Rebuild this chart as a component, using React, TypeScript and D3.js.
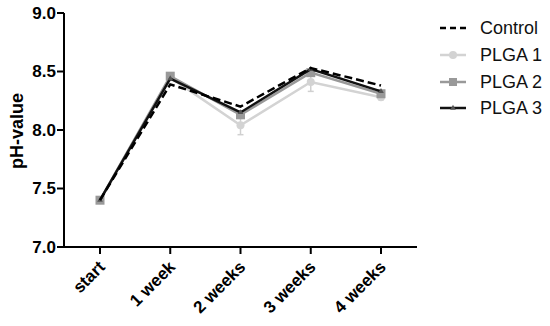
import React, { useEffect, useRef } from 'react';
import * as d3 from 'd3';

const categories = ['start', '1 week', '2 weeks', '3 weeks', '4 weeks'];
const yTicks = [7.0, 7.5, 8.0, 8.5, 9.0];

const control = [7.4, 8.39, 8.2, 8.53, 8.38];
const plga1 = [7.4, 8.45, 8.04, 8.41, 8.28];
const plga1Err = [0, 0.02, 0.08, 0.08, 0.02];
const plga2 = [7.4, 8.46, 8.13, 8.49, 8.31];
const plga2Err = [0, 0.02, 0.03, 0.03, 0.02];
const plga3 = [7.4, 8.44, 8.15, 8.52, 8.33];

const seriesNames = ['Control', 'PLGA 1', 'PLGA 2', 'PLGA 3'];

function App() {
    const ref = useRef<SVGSVGElement>(null);

    useEffect(() => {
        drawChart();
    });

    function drawChart() {
        const svg = d3.select(ref.current);
        svg.selectAll('*').remove();

        const font = 'Arial, "Liberation Sans", sans-serif';

        const x = d3
            .scalePoint<string>()
            .domain(categories)
            .range([100, 381]);

        const y = d3
            .scaleLinear()
            .domain([7, 9])
            .range([247, 13]);

        const g = svg.append('g');

        // Axes
        g.append('line')
            .attr('x1', 64).attr('x2', 64)
            .attr('y1', y(9)).attr('y2', 247)
            .attr('stroke', '#000').attr('stroke-width', 2);
        g.append('line')
            .attr('x1', 63).attr('x2', 417)
            .attr('y1', 247).attr('y2', 247)
            .attr('stroke', '#000').attr('stroke-width', 2);

        yTicks.forEach(t => {
            g.append('line')
                .attr('x1', 57).attr('x2', 64)
                .attr('y1', y(t)).attr('y2', y(t))
                .attr('stroke', '#000').attr('stroke-width', 2);
            g.append('text')
                .attr('x', 56)
                .attr('y', y(t))
                .attr('dy', '0.35em')
                .attr('text-anchor', 'end')
                .style('font-family', font)
                .style('font-weight', 'bold')
                .style('font-size', '17px')
                .text(t.toFixed(1));
        });

        categories.forEach(c => {
            const cx = x(c) as number;
            g.append('line')
                .attr('x1', cx).attr('x2', cx)
                .attr('y1', 247).attr('y2', 254)
                .attr('stroke', '#000').attr('stroke-width', 2);
            g.append('text')
                .attr('text-anchor', 'end')
                .attr('transform', `translate(${cx + 6}, ${268}) rotate(-45)`)
                .style('font-family', font)
                .style('font-weight', 'bold')
                .style('font-size', '17px')
                .text(c);
        });

        g.append('text')
            .attr('transform', `translate(23, 131) rotate(-90)`)
            .attr('text-anchor', 'middle')
            .style('font-family', font)
            .style('font-weight', 'bold')
            .style('font-size', '18px')
            .text('pH-value');

        const line = d3
            .line<number>()
            .x((_, i) => x(categories[i]) as number)
            .y(d => y(d));

        // Error bars
        const errBars = (vals: number[], errs: number[], color: string) => {
            vals.forEach((v, i) => {
                if (!errs[i]) return;
                const cx = x(categories[i]) as number;
                g.append('line')
                    .attr('x1', cx).attr('x2', cx)
                    .attr('y1', y(v - errs[i])).attr('y2', y(v + errs[i]))
                    .attr('stroke', color).attr('stroke-width', 1.5);
                [v - errs[i], v + errs[i]].forEach(e => {
                    g.append('line')
                        .attr('x1', cx - 3).attr('x2', cx + 3)
                        .attr('y1', y(e)).attr('y2', y(e))
                        .attr('stroke', color).attr('stroke-width', 1.5);
                });
            });
        };

        errBars(plga1, plga1Err, '#d0d0d0');
        errBars(plga2, plga2Err, '#999');

        // PLGA 1
        g.append('path')
            .attr('d', line(plga1))
            .attr('fill', 'none')
            .attr('stroke', '#d3d3d3')
            .attr('stroke-width', 2.5);
        plga1.forEach((v, i) => {
            g.append('circle')
                .attr('cx', x(categories[i]) as number)
                .attr('cy', y(v))
                .attr('r', 4)
                .attr('fill', '#d3d3d3');
        });

        // PLGA 2
        g.append('path')
            .attr('d', line(plga2))
            .attr('fill', 'none')
            .attr('stroke', '#999')
            .attr('stroke-width', 2.5);
        plga2.forEach((v, i) => {
            g.append('rect')
                .attr('x', (x(categories[i]) as number) - 4.5)
                .attr('y', y(v) - 4.5)
                .attr('width', 9)
                .attr('height', 9)
                .attr('fill', '#999');
        });

        // PLGA 3
        g.append('path')
            .attr('d', line(plga3))
            .attr('fill', 'none')
            .attr('stroke', '#111')
            .attr('stroke-width', 2.5);
        const tri = d3.symbol().type(d3.symbolTriangle).size(14);
        plga3.forEach((v, i) => {
            g.append('path')
                .attr('d', tri() as string)
                .attr('transform', `translate(${x(categories[i])}, ${y(v)})`)
                .attr('fill', '#555');
        });

        // Control
        g.append('path')
            .attr('d', line(control))
            .attr('fill', 'none')
            .attr('stroke', '#000')
            .attr('stroke-width', 2.5)
            .attr('stroke-dasharray', '8,4');

        // Legend
        const legend = svg.append('g').attr('transform', 'translate(440, 0)');
        const rows = [28, 55, 82, 108];
        seriesNames.forEach((name, i) => {
            const ly = rows[i];
            const colors = ['#000', '#d3d3d3', '#999', '#111'];
            const l = legend.append('line')
                .attr('x1', 0).attr('x2', 26)
                .attr('y1', ly).attr('y2', ly)
                .attr('stroke', colors[i])
                .attr('stroke-width', 2.5);
            if (i === 0) l.attr('stroke-dasharray', '6,4');
            if (i === 1) {
                legend.append('circle').attr('cx', 13).attr('cy', ly).attr('r', 4).attr('fill', '#d3d3d3');
            }
            if (i === 2) {
                legend.append('rect').attr('x', 9).attr('y', ly - 4).attr('width', 8).attr('height', 8).attr('fill', '#999');
            }
            if (i === 3) {
                legend.append('path').attr('d', tri() as string)
                    .attr('transform', `translate(13, ${ly})`).attr('fill', '#555');
            }
            legend.append('text')
                .attr('x', 40)
                .attr('y', ly)
                .attr('dy', '0.35em')
                .style('font-family', font)
                .style('font-size', '18px')
                .style('fill', '#111')
                .text(name);
        });
    }

    return (
        <svg
            ref={ref}
            width={550}
            height={326}
            style={{ position: 'absolute', left: 0, top: 0, background: '#fff' }}
        />
    );
}

export default App;
